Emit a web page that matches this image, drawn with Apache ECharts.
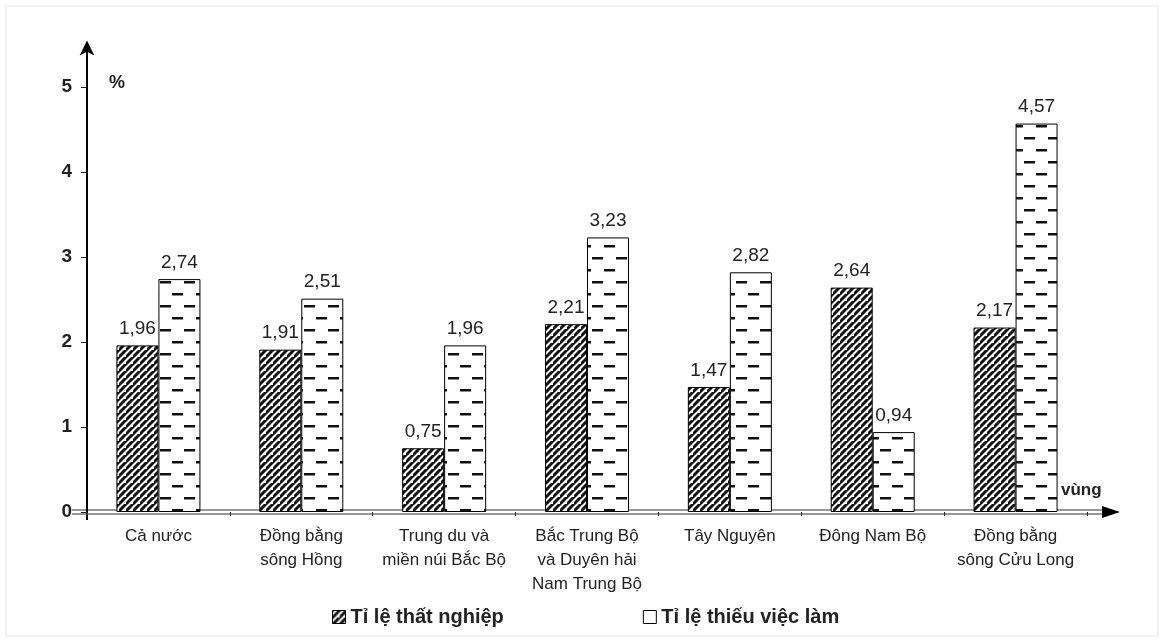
<!DOCTYPE html>
<html>
<head>
<meta charset="utf-8">
<script src="https://cdn.jsdelivr.net/npm/echarts@6/dist/echarts.min.js"></script>
<style>
html,body{margin:0;padding:0;background:#fff;}
#c{width:1164px;height:641px;}
</style>
</head>
<body>
<div id="c"></div>
<script>
var categories = ['Cả nước', 'Đồng bằng\nsông Hồng', 'Trung du và\nmiền núi Bắc Bộ', 'Bắc Trung Bộ\nvà Duyên hải\nNam Trung Bộ', 'Tây Nguyên', 'Đông Nam Bộ', 'Đồng bằng\nsông Cửu Long'];
var thatNghiep = [1.96, 1.91, 0.75, 2.21, 1.47, 2.64, 2.17];
var thieuViecLam = [2.74, 2.51, 1.96, 3.23, 2.82, 0.94, 4.57];
var yTicks = [0, 1, 2, 3, 4, 5];
var seriesNames = ['Tỉ lệ thất nghiệp', 'Tỉ lệ thiếu việc làm'];

function hatchCanvas() {
  var s = 7, c = document.createElement('canvas');
  c.width = s; c.height = s;
  var g = c.getContext('2d');
  g.fillStyle = '#fff'; g.fillRect(0, 0, s, s);
  g.strokeStyle = '#111'; g.lineWidth = 3; g.lineCap = 'square';
  g.beginPath();
  g.moveTo(-1, s + 1); g.lineTo(s + 1, -1);
  g.moveTo(-1 - s, s + 1); g.lineTo(1, -1);
  g.moveTo(s - 1, 2 * s + 1); g.lineTo(2 * s + 1, s - 1);
  g.stroke();
  return c;
}
function dashCanvas() {
  var w = 24, h = 24, c = document.createElement('canvas');
  c.width = w; c.height = h;
  var g = c.getContext('2d');
  g.fillStyle = '#fff'; g.fillRect(0, 0, w, h);
  g.fillStyle = '#111';
  g.fillRect(4, 5, 11, 2.5);
  g.fillRect(16, 17, 8, 2.5);
  g.fillRect(0, 17, 3, 2.5);
  return c;
}
var hatch = {image: hatchCanvas(), repeat: 'repeat'};
var dash = {image: dashCanvas(), repeat: 'repeat'};

function fmt(p) { return p.value.toFixed(2).replace('.', ','); }

var FONT = 'Liberation Sans, Arial';
var chart = echarts.init(document.getElementById('c'));
var labelStyle = {show: true, position: 'top', distance: 7, formatter: fmt, fontFamily: FONT, fontSize: 19, color: '#222'};
chart.setOption({
  animation: false,
  backgroundColor: '#fff',
  grid: {left: 87, right: 77, top: 44.5, bottom: 129, containLabel: false},
  legend: {
    left: 327, bottom: 9, itemWidth: 13, itemHeight: 13, itemGap: 139,
    icon: 'rect',
    textStyle: {fontFamily: FONT, fontSize: 20, fontWeight: 'bold', color: '#222'},
    data: [
      {name: seriesNames[0], itemStyle: {color: hatch, borderColor: '#000', borderWidth: 1}},
      {name: seriesNames[1], itemStyle: {color: '#fff', borderColor: '#000', borderWidth: 1}}
    ]
  },
  xAxis: {
    type: 'category', data: categories,
    axisLine: {show: false},
    axisTick: {show: true, length: 4, lineStyle: {color: '#222', width: 1}},
    axisLabel: {interval: 0, margin: 12, fontFamily: FONT, fontSize: 17, color: '#222', lineHeight: 24}
  },
  yAxis: {
    type: 'value', min: 0, max: 5.5, interval: 1,
    splitLine: {show: false},
    axisLine: {show: true, symbol: ['none', 'arrow'], symbolSize: [11, 15], symbolOffset: [0, 4], lineStyle: {color: '#000', width: 2}},
    axisTick: {show: true, length: 6, customValues: yTicks, lineStyle: {color: '#222', width: 1}},
    axisLabel: {customValues: yTicks, margin: 15, fontFamily: FONT, fontSize: 19, fontWeight: 'bold', color: '#222'}
  },
  series: [
    {name: seriesNames[0], type: 'bar', data: thatNghiep, barWidth: 42, barGap: '0%',
      itemStyle: {color: hatch, borderColor: '#000', borderWidth: 1}, label: labelStyle},
    {name: seriesNames[1], type: 'bar', data: thieuViecLam, barWidth: 42, barGap: '0%',
      itemStyle: {color: dash, borderColor: '#000', borderWidth: 1}, label: labelStyle}
  ]
});

var y0 = chart.convertToPixel({yAxisIndex: 0}, 0);
var x0 = 87;
chart.setOption({
  graphic: [
    {type: 'rect', shape: {x: 6, y: 6, width: 1152, height: 630}, style: {fill: 'none', stroke: '#eeeeee', lineWidth: 1.5}, silent: true},
    {type: 'line', shape: {x1: x0, y1: y0, x2: x0, y2: y0 + 8}, style: {stroke: '#000', lineWidth: 2}},
    {type: 'line', shape: {x1: 72, y1: y0 - 2, x2: 1108, y2: y0 - 2}, style: {stroke: '#333', lineWidth: 1.2}},
    {type: 'line', shape: {x1: 72, y1: y0 + 2, x2: 1108, y2: y0 + 2}, style: {stroke: '#333', lineWidth: 1.2}},
    {type: 'polygon', shape: {points: [[1102, y0 - 6], [1120, y0], [1102, y0 + 6]]}, style: {fill: '#000'}},
    {type: 'text', left: 109, top: 74, style: {text: '%', fontFamily: FONT, fontSize: 18, fontWeight: 'bold', fill: '#222'}},
    {type: 'text', left: 1061, top: 482, style: {text: 'vùng', fontFamily: FONT, fontSize: 17, fontWeight: 'bold', fill: '#222'}}
  ]
});
</script>
</body>
</html>
